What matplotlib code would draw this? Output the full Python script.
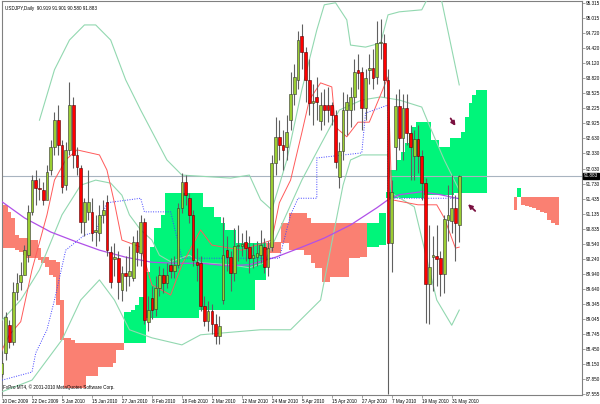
import numpy as np
import matplotlib
matplotlib.use("Agg")
import matplotlib.pyplot as plt

# daily candles, 10 Dec 2009 .. 2 Jun 2010 (bar index 0..122)
opens = [87.95, 88.37, 88.92, 88.59, 89.58, 89.78, 89.92, 90.31, 91.17, 91.80,
         91.64, 91.60, 91.41, 92.00, 92.45, 93.00, 92.50, 91.70, 92.40, 93.30,
         92.30, 92.04, 90.97, 91.17, 91.17, 90.77, 90.75, 91.11, 91.37, 90.37,
         90.24, 90.26, 89.62, 89.96, 89.90, 89.86, 90.57, 90.35, 90.97, 88.98,
         89.46, 89.24, 89.66, 89.92, 89.76, 90.12, 90.00, 90.12, 91.25, 91.76,
         91.44, 91.11, 90.18, 90.16, 89.30, 89.00, 89.20, 88.95, 88.70, 89.42,
         90.41, 90.27, 89.96, 90.49, 90.50, 90.58, 90.48, 90.26, 90.28, 90.32,
         90.48, 90.08, 90.48, 92.14, 92.66, 92.50, 92.46, 92.99, 93.51, 93.79,
         94.66, 94.34, 93.79, 93.33, 93.45, 92.97, 93.30, 93.30, 93.29, 93.09,
         91.86, 92.37, 93.19, 93.19, 93.45, 93.99, 93.95, 93.23, 93.99, 94.03,
         93.85, 94.52, 94.52, 93.79, 90.55, 92.45, 93.27, 92.64, 93.23, 92.73,
         92.28, 92.62, 92.28, 91.74, 89.74, 90.28, 90.30, 90.26, 89.94, 91.00,
         90.99, 91.25, 90.919]
highs = [88.40, 89.18, 89.02, 89.78, 89.96, 90.18, 90.51, 91.31, 91.90, 92.00,
         91.84, 91.76, 92.10, 92.60, 93.15, 93.30, 92.60, 92.55, 93.75, 93.45,
         92.45, 92.10, 91.45, 92.00, 91.45, 91.10, 91.30, 91.40, 91.50, 90.50,
         90.55, 90.40, 90.10, 90.30, 90.50, 90.70, 90.80, 91.10, 91.05, 89.50,
         89.70, 89.90, 90.10, 90.05, 90.15, 90.25, 90.30, 91.35, 91.95, 91.90,
         91.55, 91.20, 90.45, 90.30, 89.50, 89.40, 89.35, 89.15, 89.10, 91.07,
         90.70, 90.40, 90.85, 90.90, 90.75, 90.80, 90.70, 90.55, 90.60, 90.80,
         90.65, 90.60, 92.30, 93.05, 93.00, 92.80, 93.10, 93.95, 94.10, 94.75,
         94.90, 94.45, 94.20, 93.70, 93.85, 93.55, 93.60, 93.65, 93.35, 93.20,
         92.55, 93.55, 93.50, 93.65, 94.20, 94.30, 94.05, 94.00, 94.30, 94.40,
         94.95, 95.00, 94.70, 94.00, 91.80, 93.50, 93.60, 93.50, 93.50, 92.90,
         92.80, 92.90, 92.40, 91.85, 90.90, 90.70, 90.90, 90.40, 91.10, 91.70,
         91.90, 91.50, 91.901]
lows = [87.90, 88.23, 88.47, 88.53, 89.42, 89.62, 89.92, 90.18, 91.11, 91.31,
        91.41, 91.31, 91.51, 91.90, 92.30, 92.30, 91.55, 91.60, 92.30, 92.05,
        91.90, 90.75, 90.70, 91.00, 90.60, 90.50, 90.60, 90.95, 90.30, 89.65,
        89.90, 89.45, 89.40, 89.60, 89.70, 89.80, 90.10, 90.10, 88.95, 88.80,
        89.05, 89.10, 89.50, 89.55, 89.65, 89.85, 89.85, 90.05, 91.15, 91.30,
        90.95, 90.10, 89.80, 89.20, 88.90, 88.80, 88.75, 88.55, 88.55, 89.35,
        90.00, 89.60, 89.80, 90.20, 90.30, 90.20, 89.95, 90.05, 90.10, 90.15,
        89.95, 89.90, 90.40, 91.90, 92.20, 92.00, 92.20, 92.80, 93.30, 93.60,
        94.00, 93.35, 93.10, 92.90, 93.00, 92.80, 92.90, 92.95, 92.90, 92.05,
        91.65, 92.20, 92.70, 92.85, 93.20, 93.60, 92.80, 93.00, 93.70, 93.60,
        93.70, 94.20, 93.45, 87.55, 89.98, 92.00, 92.40, 92.20, 92.50, 91.80,
        91.80, 91.95, 91.40, 88.96, 88.95, 89.60, 89.70, 89.50, 89.55, 90.60,
        90.75, 90.20, 90.58]
closes = [88.17, 89.08, 88.59, 89.58, 89.76, 89.92, 90.41, 91.17, 91.80, 91.64,
          91.62, 91.41, 91.96, 92.45, 93.00, 92.50, 91.66, 92.40, 93.30, 92.30,
          92.06, 90.97, 91.37, 91.37, 90.75, 90.79, 91.11, 91.21, 90.41, 89.78,
          90.28, 89.78, 89.96, 89.90, 90.00, 90.57, 90.37, 90.97, 89.02, 89.22,
          89.22, 89.66, 89.92, 89.76, 89.92, 90.00, 90.12, 91.25, 91.76, 91.50,
          91.11, 90.22, 90.12, 89.30, 89.00, 89.20, 88.95, 88.70, 88.90, 90.31,
          90.27, 89.96, 90.49, 90.50, 90.52, 90.46, 90.26, 90.32, 90.36, 90.52,
          90.08, 90.46, 92.14, 92.66, 92.50, 92.40, 92.76, 93.51, 93.85, 94.58,
          94.34, 93.79, 93.33, 93.37, 93.35, 93.29, 93.20, 93.20, 93.09, 92.16,
          92.37, 93.19, 93.35, 93.45, 93.95, 93.93, 93.23, 93.83, 94.02, 93.83,
          94.52, 94.55, 93.79, 90.55, 91.56, 93.27, 92.64, 93.23, 92.73, 92.45,
          92.62, 92.28, 91.74, 89.74, 90.08, 90.30, 90.24, 89.94, 91.03, 91.10,
          91.25, 90.95, 91.883]

# ichimoku cloud (senkou spans), bar index 0..148
span_a = [90.45, 90.45, 90.45, 90.45, 90.41, 90.37, 90.31, 90.25, 90.25, 90.25,
          90.21, 90.16, 90.08, 89.92, 89.88, 89.32, 88.63, 87.67, 87.67, 87.67,
          87.67, 87.67, 87.67, 87.91, 87.91, 87.91, 88.09, 88.09, 88.09, 88.09,
          88.17, 88.43, 88.43, 89.18, 89.18, 89.22, 89.32, 89.48, 89.48, 89.98,
          90.47, 90.85, 90.85, 91.11, 91.54, 91.54, 91.54, 91.54, 91.54, 91.54,
          91.54, 91.54, 91.54, 91.54, 91.27, 91.27, 91.27, 91.07, 91.07, 90.95,
          90.81, 90.81, 90.81, 90.55, 90.55, 90.55, 90.55, 90.55, 90.55, 90.55,
          90.55, 90.41, 90.35, 90.35, 90.35, 90.55, 90.55, 90.41, 90.41, 90.41,
          90.41, 90.31, 90.31, 90.16, 90.06, 90.06, 89.78, 89.78, 89.88, 89.88,
          89.88, 89.88, 89.88, 90.25, 90.25, 90.25, 90.27, 90.27, 90.95, 90.95,
          90.95, 91.15, 91.15, 91.56, 92.00, 92.00, 92.20, 92.36, 92.54, 92.74,
          92.86, 92.95, 92.95, 92.95, 92.95, 92.60, 92.60, 92.46, 92.46, 92.46,
          92.64, 92.64, 92.64, 92.76, 93.05, 93.33, 93.49, 93.59, 93.59, 93.59,
          None, None, None, None, None, None, None, 91.21, 91.64, 91.31,
          91.29, 91.27, 91.25, 91.21, 91.17, 91.15, 91.01, 90.95, 90.91]
span_b = [91.31, 91.31, 91.17, 91.05, 90.71, 90.65, 90.65, 90.65, 90.61, 90.61,
          90.45, 90.27, 90.27, 90.21, 90.21, 90.18, 89.42, 88.67, 88.67, 88.63,
          88.57, 88.57, 88.57, 88.57, 88.57, 88.57, 88.57, 88.57, 88.57, 88.57,
          88.57, 88.57, 88.57, 88.57, 88.57, 88.57, 88.57, 88.57, 88.57, 89.06,
          89.06, 89.06, 89.06, 89.06, 89.06, 89.06, 89.06, 89.06, 89.06, 89.06,
          89.06, 89.06, 89.06, 89.22, 89.22, 89.22, 89.22, 89.22, 89.22, 89.22,
          89.22, 89.22, 89.22, 89.22, 89.22, 89.22, 89.22, 89.22, 89.82, 89.82,
          89.82, 90.55, 90.57, 90.57, 90.57, 90.95, 90.95, 91.15, 91.15, 91.15,
          91.15, 91.15, 91.05, 90.95, 90.95, 90.95, 90.95, 90.95, 90.95, 90.95,
          90.95, 90.95, 90.95, 90.95, 90.95, 90.95, 90.95, 90.95, 90.47, 90.47,
          90.47, 90.51, 90.51, 91.44, 91.44, 91.44, 91.44, 91.44, 91.44, 91.44,
          91.44, 91.44, 91.44, 91.50, 91.50, 91.50, 91.50, 91.50, 91.50, 91.50,
          91.50, 91.54, 91.54, 91.54, 91.54, 91.54, 91.54, 91.54, 91.54, 91.54,
          None, None, None, None, None, None, None, 91.46, 91.46, 91.46,
          91.46, 91.46, 91.46, 91.46, 91.46, 91.46, 91.46, 91.46, 91.46]

# indicator lines: (bar index, price)
ma_idx = [0, 6, 13, 20, 26, 33, 40, 46, 53, 60, 66, 73, 80, 86, 93, 100, 103, 106, 112, 117, 122]
ma_val = [91.37, 91.05, 90.77, 90.57, 90.41, 90.27, 90.17, 90.15, 90.15, 90.10, 90.12,
          90.27, 90.47, 90.65, 90.91, 91.25, 91.41, 91.51, 91.57, 91.51, 91.43]

tenkan_idx = [0, 2, 5, 8, 12, 14, 17, 20, 26, 28, 30, 32, 37, 40, 45, 48, 53, 56, 64,
              72, 74, 77, 80, 82, 85, 88, 89, 92, 95, 98, 103, 104, 111, 116, 118, 121, 122]
tenkan_val = [88.43, 88.73, 88.99, 90.02, 91.11, 91.80, 92.20, 92.40, 92.30, 92.00, 91.35,
              90.61, 90.47, 89.72, 89.52, 90.12, 90.81, 90.51, 90.41, 90.61, 91.35, 91.80,
              92.74, 93.39, 93.73, 93.65, 92.85, 92.66, 92.95, 92.95, 93.85, 91.41, 91.31,
              91.31, 91.05, 90.45, 90.47]

kijun_idx = [0, 8, 9, 12, 14, 17, 22, 25, 28, 37, 38, 45, 48, 74, 77, 79, 84, 84, 96, 97,
             103, 103, 122]
kijun_val = [87.83, 87.99, 88.37, 88.83, 89.42, 90.41, 90.71, 90.77, 91.35, 91.44, 91.17,
             91.17, 90.25, 90.25, 91.11, 91.44, 91.44, 92.24, 92.34, 93.13, 93.29, 91.44,
             91.44]

bb_up_idx = [10, 14, 18, 22, 25, 29, 33, 37, 44, 48, 61, 66, 69, 72, 76, 80, 84, 86, 89,
             92, 93, 97, 101, 103, 106, 112, 114, 117, 122]
bb_up_val = [92.99, 93.99, 94.58, 94.88, 94.88, 94.58, 93.79, 93.19, 92.20, 91.90, 91.84,
             91.90, 91.41, 91.21, 92.20, 93.59, 94.78, 95.28, 95.32, 94.98, 94.48, 94.44,
             94.52, 95.08, 95.14, 95.18, 95.47, 95.47, 93.69]
bb_mid_idx = [0, 5, 10, 16, 21, 25, 29, 32, 34, 37, 40, 42, 45, 50, 53, 61, 66, 70, 74, 80,
              85, 90, 96, 101, 106, 112, 114, 118, 122]
bb_mid_val = [89.02, 89.42, 90.02, 91.11, 91.70, 91.80, 91.74, 91.50, 91.11, 90.81, 90.61,
              90.31, 90.18, 90.31, 90.16, 90.12, 90.06, 90.16, 90.81, 91.80, 92.50, 93.19,
              93.39, 93.45, 93.39, 93.25, 92.89, 92.20, 91.60]
bb_low_idx = [0, 8, 12, 16, 21, 26, 30, 34, 40, 48, 53, 69, 77, 85, 91, 93, 96, 101, 103,
              104, 110, 116, 120, 122]
bb_low_val = [87.60, 87.83, 88.23, 88.63, 89.42, 89.82, 89.42, 88.83, 88.67, 88.53, 88.73,
              88.83, 88.83, 89.42, 91.70, 92.20, 92.30, 92.30, 92.30, 91.54, 91.27, 89.42,
              88.92, 89.22]

price_ticks = [95.315, 95.015, 94.720, 94.420, 94.120, 93.820, 93.525, 93.225, 92.925,
               92.630, 92.330, 92.030, 91.730, 91.435, 91.135, 90.835, 90.540, 90.240,
               89.940, 89.640, 89.345, 89.045, 88.745, 88.450, 88.150, 87.850, 87.555]
date_labels = ["10 Dec 2009", "22 Dec 2009", "5 Jan 2010", "15 Jan 2010", "27 Jan 2010",
               "8 Feb 2010", "18 Feb 2010", "2 Mar 2010", "12 Mar 2010", "24 Mar 2010",
               "5 Apr 2010", "15 Apr 2010", "27 Apr 2010", "7 May 2010", "19 May 2010",
               "31 May 2010"]
last_price = 91.883

FONT = "Liberation Sans"
FS = 3.3
BULL = "#9ACD32"
BEAR = "#FF0000"
WICK = "#606060"

fig = plt.figure(figsize=(6.0, 4.04), dpi=100)
ax = fig.add_axes([2 / 600, 9 / 404, 580 / 600, 394 / 404])
ax.set_xlim(0.09, 0.09 + 580 / 3.75)
ax.set_ylim(87.535, 95.355)

# cloud drawn as histogram between the spans
sa = np.array([np.nan if v is None else v for v in span_a])
sb = np.array([np.nan if v is None else v for v in span_b])
ci = np.arange(len(sa))
ok = ~np.isnan(sa)
green = ok & (sa >= sb)
red = ok & (sa < sb)
ax.bar(ci[green], (sa - sb)[green], bottom=sb[green], width=1.0, color="#00F57A",
       linewidth=0, zorder=1)
ax.bar(ci[red], (sb - sa)[red], bottom=sa[red], width=1.0, color="#FA8072",
       linewidth=0, zorder=1)

# current price line
ax.axhline(last_price, color="#A8B4C0", lw=0.8, zorder=2)

# indicator lines
ax.plot(bb_up_idx, bb_up_val, color="#92D8B0", lw=0.8, zorder=3)
ax.plot(bb_mid_idx, bb_mid_val, color="#92D8B0", lw=0.8, zorder=3)
ax.plot(bb_low_idx, bb_low_val, color="#92D8B0", lw=0.8, zorder=3)
ax.plot(ma_idx, ma_val, color="#B050E8", lw=0.9, zorder=3)
ax.plot(tenkan_idx, tenkan_val, color="#FF5A5A", lw=0.7, zorder=3)
ax.plot(kijun_idx, kijun_val, color="#4040FF", lw=0.7, ls=(0, (1, 1.5)), zorder=3)

# candles
o = np.array(opens)
h = np.array(highs)
l = np.array(lows)
c = np.array(closes)
idx = np.arange(len(o))
ax.vlines(idx, l, h, color=WICK, lw=0.8, zorder=4)
up = c >= o
body_lo = np.minimum(o, c)
body_h = np.maximum(np.abs(c - o), 0.03)
ax.bar(idx[up], body_h[up], bottom=body_lo[up], width=0.72, color=BULL,
       edgecolor="#303030", linewidth=0.4, zorder=5)
ax.bar(idx[~up], body_h[~up], bottom=body_lo[~up], width=0.72, color=BEAR,
       edgecolor="#500000", linewidth=0.4, zorder=5)

# arrows
arrow_kw = dict(arrowstyle="-|>", color="#7A1040", lw=1.3, mutation_scale=6)
ax.annotate("", xy=(121.4, 92.83), xytext=(119.3, 93.07), arrowprops=arrow_kw, zorder=6)
ax.annotate("", xy=(123.8, 91.36), xytext=(126.8, 91.15), arrowprops=arrow_kw, zorder=6)

# texts
ax.text(0.005, 0.988, "USDJPY,Daily  90.919 91.901 90.580 91.883", transform=ax.transAxes,
        fontsize=FS, family=FONT, va="top", ha="left", color="black")
ax.text(0.002, 0.012, "FxPro MT4, \u00a9 2001-2010 MetaQuotes Software Corp.",
        transform=ax.transAxes, fontsize=FS, family=FONT, va="bottom", ha="left")

# axes look
for s in ax.spines.values():
    s.set_color("#808080")
    s.set_linewidth(0.8)
ax.yaxis.tick_right()
ax.set_yticks(price_ticks)
ax.set_yticklabels([f"{t:.3f}" for t in price_ticks], fontsize=FS, family=FONT)
ax.tick_params(axis="y", length=2, width=0.5, color="#808080", pad=1)
ax.set_xticks([8 * k for k in range(len(date_labels))])
ax.set_xticklabels(date_labels, fontsize=FS, family=FONT, ha="left")
ax.tick_params(axis="x", length=2.5, width=0.5, color="#808080", pad=0.5)

ax.text(1.003, last_price, f"{last_price:.3f}", transform=ax.get_yaxis_transform(),
        fontsize=FS, family=FONT, color="white", va="center", ha="left",
        bbox=dict(boxstyle="square,pad=0.15", fc="black", ec="black"), zorder=10,
        clip_on=False)

fig.savefig("out.png", dpi=100)
